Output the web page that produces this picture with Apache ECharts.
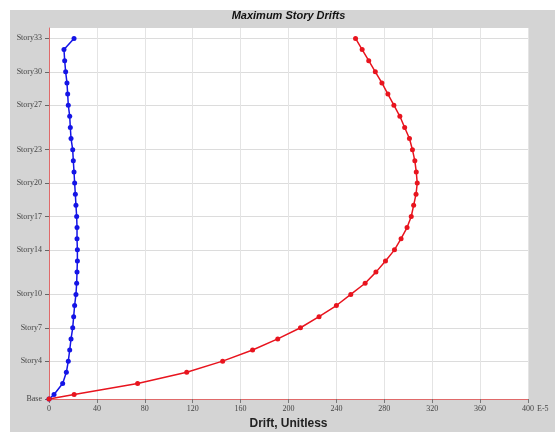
<!DOCTYPE html>
<html>
<head>
<meta charset="utf-8">
<script src="https://cdn.jsdelivr.net/npm/echarts@6/dist/echarts.min.js"></script>
<style>
  body{
    margin: 0;
    background: #fff;
  }
  .chart{
    position: absolute;
    left: 10px;
    top: 10px;
    width: 545px;
    height: 422px;
  }
</style>
</head>
<body>
<div class="chart" id="mapContain"></div>
<script>
// story names, bottom to top
let stories = ['Base', 'Story1', 'Story2', 'Story3', 'Story4', 'Story5', 'Story6', 'Story7', 'Story8', 'Story9', 'Story10',
  'Story11', 'Story12', 'Story13', 'Story14', 'Story15', 'Story16', 'Story17', 'Story18', 'Story19', 'Story20',
  'Story21', 'Story22', 'Story23', 'Story24', 'Story25', 'Story26', 'Story27', 'Story28', 'Story29', 'Story30',
  'Story31', 'Story32', 'Story33'];
// elevation of each story (m)
let storyElev = [0, 1.2, 4.2, 7.2, 10.2, 13.2, 16.2, 19.2, 22.2, 25.2, 28.2,
  31.2, 34.2, 37.2, 40.2, 43.2, 46.2, 49.2, 52.2, 55.2, 58.2,
  61.2, 64.2, 67.2, 70.2, 73.2, 76.2, 79.2, 82.2, 85.2, 88.2,
  91.2, 94.2, 97.2];
// stories shown on the vertical axis
let labelStories = ['Base', 'Story4', 'Story7', 'Story10', 'Story14', 'Story17', 'Story20', 'Story23', 'Story27', 'Story30', 'Story33'];
// drifts, E-5
let driftX = [0, 4.2, 11.4, 14.5, 16.1, 17.3, 18.4, 19.8, 20.6, 21.4, 22.5,
  23.1, 23.4, 23.7, 23.7, 23.4, 23.4, 23.1, 22.5, 22.0, 21.4,
  20.9, 20.3, 19.8, 18.4, 17.8, 17.3, 16.1, 15.6, 15.0, 13.9,
  13.1, 12.5, 20.9];
let driftY = [0, 21, 74, 115, 145, 170, 191, 210, 225.5, 240, 252,
  264, 273, 281, 288.5, 294, 299, 302.5, 304.5, 306.5, 307.5,
  306.7, 305.5, 303.5, 301, 297, 293, 288, 283, 278, 272.5,
  267, 261.5, 256];

let mychart = echarts.init(document.getElementById('mapContain'));

let labelValues = labelStories.map(s => storyElev[stories.indexOf(s)]);

function storyName(v){
  for(let i = 0; i < storyElev.length; i++){
    if(Math.abs(storyElev[i] - v) < 1e-6) return stories[i];
  }
  return '';
}

function pairs(d){
  return d.map((x, i) => [x, storyElev[i]]);
}

let option = {
  backgroundColor: '#d4d4d4',
  animation: false,
  title: {
    text: 'Maximum Story Drifts',
    left: 278.5,
    textAlign: 'center',
    top: 0,
    padding: 0,
    textStyle: {
      fontFamily: 'Liberation Sans',
      fontSize: 11,
      fontWeight: 'bold',
      fontStyle: 'italic',
      color: '#111'
    }
  },
  grid: {
    left: 39,
    right: 27,
    top: 18,
    bottom: 33,
    outerBoundsMode: 'none',
    show: true,
    backgroundColor: '#fff',
    borderWidth: 0
  },
  xAxis: {
    type: 'value',
    min: 0,
    max: 400,
    interval: 40,
    name: 'Drift, Unitless',
    nameLocation: 'middle',
    nameGap: 17,
    nameTextStyle: {
      fontFamily: 'Liberation Sans',
      fontSize: 12,
      fontWeight: 'bold',
      color: '#222'
    },
    axisLine: {show: true, lineStyle: {color: '#e06a6a', width: 1}},
    axisTick: {show: true, length: 4, lineStyle: {color: '#777'}},
    axisLabel: {
      margin: 6,
      fontFamily: 'Liberation Serif',
      fontSize: 8,
      color: '#444'
    },
    splitLine: {show: true, lineStyle: {color: '#e4e4e4', width: 1}}
  },
  yAxis: {
    type: 'value',
    min: 0,
    max: 100,
    axisLine: {show: true, lineStyle: {color: '#e06a6a', width: 1}},
    axisTick: {show: true, length: 4, customValues: labelValues, lineStyle: {color: '#666'}},
    axisLabel: {
      customValues: labelValues,
      formatter: storyName,
      margin: 7,
      fontFamily: 'Liberation Serif',
      fontSize: 8,
      color: '#444'
    },
    splitLine: {show: true, customValues: labelValues, lineStyle: {color: '#dcdcdc', width: 1}}
  },
  graphic: [{
    type: 'text',
    left: 527,
    top: 395,
    style: {
      text: 'E-5',
      font: '8px "Liberation Serif"',
      fill: '#444'
    }
  }],
  series: [
    {
      name: 'X',
      type: 'line',
      data: pairs(driftX),
      symbol: 'circle',
      symbolSize: 5,
      lineStyle: {color: '#1414e6', width: 1.5},
      itemStyle: {color: '#1414e6'}
    },
    {
      name: 'Y',
      type: 'line',
      data: pairs(driftY),
      symbol: 'circle',
      symbolSize: 5,
      lineStyle: {color: '#e8141e', width: 1.5},
      itemStyle: {color: '#e8141e'}
    }
  ]
};
mychart.setOption(option);
</script>
</body>
</html>
